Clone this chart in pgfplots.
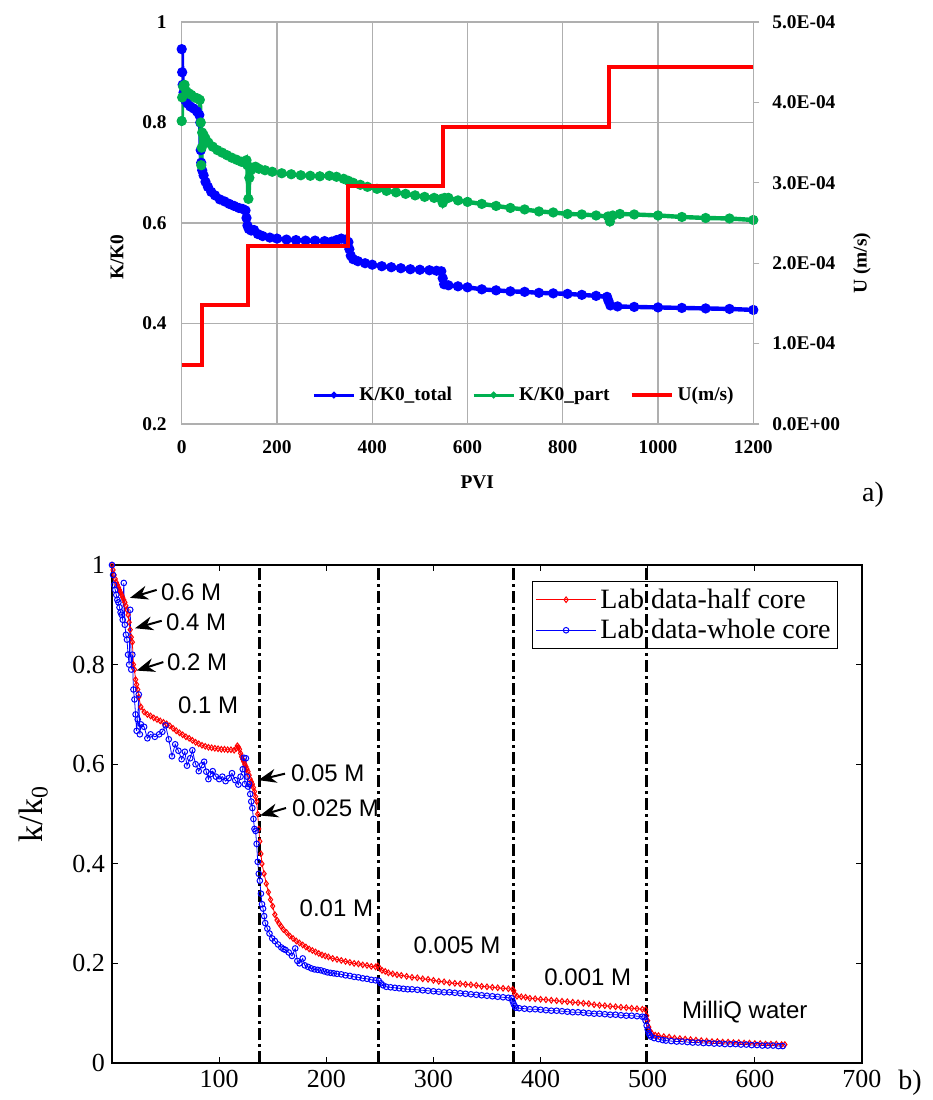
\documentclass[border=0pt]{standalone}
\usepackage{pgfplots}
\pgfplotsset{compat=1.18}
\usepackage{fontspec}
\setmainfont{Liberation Serif}
\newfontfamily\arialfont{Liberation Sans}
\usetikzlibrary{arrows.meta}
\definecolor{xlblue}{RGB}{0,0,255}
\definecolor{xlgreen}{RGB}{0,176,80}
\definecolor{xlred}{RGB}{255,0,0}
\definecolor{gridgray}{RGB}{175,175,175}

\pgfplotstableread{
x y
0 0.946
1 0.90
2 0.875
4 0.86
7 0.845
12 0.838
18 0.832
25 0.828
32 0.822
37 0.815
39 0.80
40 0.745
41 0.72
43 0.705
46 0.695
50 0.682
55 0.672
62 0.662
70 0.655
80 0.647
90 0.643
100 0.638
110 0.634
120 0.630
128 0.628
134 0.625
136 0.61
138 0.595
141 0.588
146 0.585
152 0.586
160 0.578
170 0.574
185 0.571
200 0.569
220 0.567
240 0.566
260 0.565
280 0.565
300 0.564
315 0.563
325 0.566
335 0.569
345 0.567
350 0.562
352 0.548
355 0.535
360 0.528
370 0.524
385 0.520
400 0.517
420 0.514
440 0.512
460 0.510
480 0.508
500 0.507
520 0.506
535 0.505
545 0.504
548 0.49
551 0.478
560 0.476
580 0.474
600 0.472
630 0.468
660 0.466
690 0.464
720 0.463
750 0.461
780 0.460
810 0.459
840 0.457
870 0.455
893 0.453
896 0.445
900 0.436
915 0.434
950 0.433
1000 0.432
1050 0.431
1100 0.430
1150 0.429
1200 0.427
}\totaldata

\pgfplotstableread{
x y
0 0.803
1 0.85
3 0.872
6 0.875
10 0.862
15 0.858
20 0.855
27 0.850
33 0.848
38 0.845
40 0.80
41 0.715
42 0.75
43 0.78
46 0.775
50 0.768
56 0.760
65 0.752
75 0.745
85 0.740
95 0.735
105 0.730
115 0.726
125 0.722
133 0.720
136 0.725
138 0.715
140 0.648
142 0.69
145 0.705
150 0.710
155 0.712
162 0.708
175 0.705
190 0.702
210 0.699
230 0.697
250 0.695
270 0.694
290 0.693
310 0.694
325 0.692
340 0.688
350 0.684
360 0.680
375 0.676
390 0.672
410 0.668
430 0.664
450 0.661
470 0.658
490 0.655
510 0.652
530 0.650
545 0.648
548 0.640
552 0.650
560 0.650
580 0.645
600 0.642
630 0.638
660 0.634
690 0.630
720 0.627
750 0.623
780 0.621
810 0.618
840 0.617
870 0.615
895 0.613
899 0.603
905 0.615
920 0.618
950 0.617
1000 0.615
1050 0.612
1100 0.610
1150 0.609
1200 0.606
}\partdata

\pgfplotstableread{
x y
0 1.0
1 0.99
2 0.98
3 0.972
4 0.965
5 0.96
6 0.955
7 0.95
8 0.945
9 0.94
10 0.935
11 0.93
12 0.925
13 0.918
14 0.91
15 0.90
16 0.885
17 0.87
18 0.855
19 0.845
20 0.80
21 0.79
22 0.77
23 0.76
24 0.75
25 0.735
27 0.715
30 0.705
33 0.700
36 0.697
39 0.693
42 0.690
45 0.687
48 0.684
51 0.681
54 0.677
57 0.672
60 0.667
63 0.663
66 0.659
69 0.655
72 0.652
75 0.648
78 0.644
81 0.641
84 0.638
87 0.636
90 0.634
93 0.633
96 0.632
99 0.631
102 0.630
105 0.630
108 0.629
111 0.629
114 0.628
116 0.632
117 0.637
118 0.634
119 0.630
120 0.622
121 0.615
122 0.610
123 0.605
124 0.600
125 0.595
126 0.590
127 0.585
128 0.578
129 0.570
130 0.565
131 0.560
132 0.553
133 0.545
134 0.535
135 0.525
136 0.500
137 0.470
138 0.445
139 0.420
140 0.400
142 0.380
144 0.360
146 0.343
148 0.328
150 0.315
152 0.298
154 0.287
156 0.280
158 0.274
160 0.268
163 0.262
166 0.255
169 0.250
172 0.245
175 0.241
178 0.237
181 0.233
184 0.229
187 0.226
190 0.223
193 0.220
196 0.217
199 0.215
202 0.213
206 0.210
210 0.208
214 0.206
218 0.204
222 0.202
226 0.200
230 0.199
234 0.197
238 0.196
242 0.194
246 0.193
248 0.195
250 0.190
252 0.186
255 0.184
258 0.181
262 0.179
266 0.177
270 0.176
275 0.174
280 0.172
285 0.171
290 0.169
295 0.168
300 0.166
305 0.164
310 0.163
315 0.161
320 0.160
325 0.159
330 0.158
335 0.157
340 0.156
345 0.154
350 0.153
355 0.152
360 0.151
365 0.150
370 0.149
374 0.148
375 0.145
376 0.138
378 0.134
382 0.133
386 0.132
390 0.130
395 0.129
400 0.128
405 0.127
410 0.126
415 0.125
420 0.124
425 0.123
430 0.122
435 0.121
440 0.120
445 0.119
450 0.117
455 0.116
460 0.115
465 0.114
470 0.113
475 0.112
480 0.111
485 0.110
490 0.109
495 0.108
498 0.107
499 0.095
500 0.085
501 0.072
502 0.065
504 0.059
507 0.056
510 0.055
515 0.053
520 0.052
525 0.050
530 0.049
535 0.048
540 0.047
545 0.046
550 0.045
555 0.044
560 0.043
565 0.043
570 0.042
575 0.042
580 0.041
585 0.041
590 0.040
595 0.040
600 0.039
605 0.039
610 0.038
615 0.038
620 0.038
625 0.037
628 0.037
}\halfcore

\pgfplotstableread{
x y
0 1.0
1 0.98
2 0.96
3 0.95
4 0.94
5 0.93
6 0.925
7 0.915
8 0.905
9 0.90
10 0.89
11 0.964
12 0.88
13 0.86
14 0.85
15 0.82
16 0.80
17 0.91
18 0.79
19 0.82
20 0.75
21 0.73
22 0.70
23 0.667
24 0.69
25 0.74
26 0.66
27 0.68
30 0.675
33 0.652
36 0.66
40 0.655
44 0.66
47 0.665
50 0.678
53 0.65
56 0.616
59 0.64
62 0.627
65 0.61
68 0.625
70 0.597
73 0.612
75 0.628
78 0.60
81 0.586
84 0.598
86 0.605
88 0.585
90 0.57
92 0.58
94 0.586
97 0.575
100 0.57
103 0.575
106 0.566
109 0.572
112 0.582
115 0.568
118 0.559
120 0.575
122 0.59
123 0.613
124 0.56
125 0.612
126 0.575
127 0.555
128 0.56
129 0.54
130 0.525
131 0.512
132 0.49
133 0.47
134 0.466
135 0.44
136 0.404
137 0.38
138 0.366
139 0.34
140 0.319
141 0.31
142 0.295
143 0.281
145 0.27
147 0.26
149.6 0.25
152 0.245
155 0.238
158 0.232
160 0.229
162 0.227
165 0.222
168 0.215
171 0.23
173 0.205
175 0.20
178 0.21
180 0.196
183 0.193
186 0.19
189 0.188
192 0.187
195 0.186
198 0.184
201 0.182
204 0.181
207 0.180
210 0.179
214 0.178
218 0.176
222 0.175
226 0.173
230 0.172
234 0.170
238 0.169
242 0.167
246 0.166
249 0.165
251 0.160
253 0.156
256 0.153
260 0.152
264 0.151
268 0.150
272 0.149
276 0.148
280 0.148
285 0.147
290 0.146
295 0.145
300 0.144
305 0.143
310 0.142
315 0.142
320 0.141
325 0.140
330 0.139
335 0.138
340 0.137
345 0.136
350 0.135
355 0.134
360 0.133
365 0.132
370 0.131
373 0.130
374 0.124
375 0.118
376 0.114
377 0.111
380 0.110
385 0.109
390 0.108
395 0.108
400 0.107
405 0.106
410 0.105
415 0.105
420 0.104
425 0.103
430 0.102
435 0.102
440 0.101
445 0.100
450 0.099
455 0.099
460 0.098
465 0.097
470 0.097
475 0.096
480 0.095
485 0.095
490 0.094
495 0.093
497 0.092
498 0.085
499 0.075
500 0.067
501 0.060
502 0.056
503 0.053
506 0.050
510 0.048
514 0.046
517 0.045
522 0.044
527 0.043
532 0.043
537 0.042
542 0.041
547 0.041
552 0.040
557 0.040
562 0.039
567 0.039
572 0.038
577 0.038
582 0.038
587 0.037
592 0.037
597 0.036
602 0.036
607 0.035
612 0.035
617 0.035
622 0.034
626 0.034
}\wholecore

\begin{document}
\begin{tikzpicture}
\useasboundingbox (0,0) rectangle (466.5pt,550pt);

% ---------- panel a: left axis ----------
\begin{axis}[
  at={(90.85pt,338pt)}, anchor=south west,
  scale only axis, width=285.8pt, height=201pt,
  xmin=0, xmax=1200, ymin=0.2, ymax=1,
  xtick={0,200,400,600,800,1000,1200},
  ytick={0.2,0.4,0.6,0.8,1},
  grid=major, major grid style={draw=gridgray, line width=0.6pt},
  axis line style={draw=gridgray, line width=0.6pt},
  major tick length=0pt,
  /pgf/number format/assume math mode=true,
  /pgf/number format/1000 sep={},
  ticklabel style={font=\fontsize{9.7}{11}\selectfont\bfseries},
  yticklabel style={xshift=-4pt},
  xticklabel style={yshift=-5pt},
  xlabel={PVI}, ylabel={K/K0},
  label style={font=\fontsize{9.7}{11}\selectfont\bfseries},
  xlabel style={at={(axis description cs:0.517,-0.144)}, anchor=center},
  ylabel style={at={(axis description cs:-0.113,0.415)}, anchor=center},
]
\addplot[xlblue, line width=2.2pt, mark=*, mark size=1.4pt] table[x=x,y=y] {\totaldata};
\addplot[xlgreen, line width=2.2pt, mark=*, mark size=1.4pt] table[x=x,y=y] {\partdata};
\end{axis}

% ---------- panel a: right axis ----------
\begin{axis}[
  at={(90.85pt,338pt)}, anchor=south west,
  scale only axis, width=285.8pt, height=201pt,
  xmin=0, xmax=1200, ymin=0, ymax=0.0005,
  axis x line=none, axis y line*=right,
  axis line style={draw=gridgray, line width=0.6pt},
  ytick={0,0.0001,0.0002,0.0003,0.0004,0.0005},
  yticklabels={0.0E+00,1.0E-04,2.0E-04,3.0E-04,4.0E-04,5.0E-04},
  scaled y ticks=false,
  tick align=outside, major tick length=3pt,
  ytick style={draw=gridgray, line width=0.6pt},
  yticklabel style={font=\fontsize{9.7}{11}\selectfont\bfseries, xshift=3pt},
  ylabel={U (m/s)},
  ylabel style={font=\fontsize{9.7}{11}\selectfont\bfseries, at={(axis description cs:1.19,0.40)}, anchor=center},
  legend columns=3,
  legend style={at={(axis description cs:0.228,0.072)}, anchor=west, draw=none, fill=none,
    font=\fontsize{9.7}{11}\selectfont\bfseries, /tikz/every even column/.append style={column sep=8pt},
    inner sep=0pt},
  legend image code/.code={\draw[mark repeat=2,mark phase=2,#1] plot coordinates {(0pt,0pt) (10pt,0pt) (20pt,0pt)};},
]
\addlegendimage{xlblue, line width=1.5pt, mark=*, mark size=0.8pt}
\addlegendentry{K/K0\_total}
\addlegendimage{xlgreen, line width=1.5pt, mark=*, mark size=0.8pt}
\addlegendentry{K/K0\_part}
\addplot[xlred, line width=2pt, const plot, forget plot] coordinates {
 (0,0.000074) (42,0.000148) (139,0.000222) (349,0.000296) (548,0.000370) (898,0.000444) (1200,0.000444)};
\addlegendimage{xlred, line width=2pt}
\addlegendentry{U(m/s)}
\end{axis}

\node[font=\fontsize{14}{16}\selectfont] at (436.5pt,302.5pt) {a)};

% ---------- panel b ----------
\begin{axis}[
  at={(56pt,18.5pt)}, anchor=south west,
  scale only axis, width=375pt, height=249pt,
  xmin=0, xmax=700, ymin=0, ymax=1,
  xtick={100,200,300,400,500,600,700},
  ytick={0,0.2,0.4,0.6,0.8,1},
  tick align=inside, major tick length=3pt,
  axis line style={line width=0.6pt},
  tick style={line width=0.6pt, black},
  /pgf/number format/assume math mode=true,
  ticklabel style={font=\fontsize{13}{14}\selectfont},
  ylabel={k/k\textsubscript{0}},
  ylabel style={font=\fontsize{17}{18}\selectfont, at={(axis description cs:-0.105,0.5)}, anchor=center},
  legend cell align=left,
  legend style={at={(axis description cs:0.968,0.968)}, anchor=north east, draw=black, fill=none,
    font=\fontsize{14}{16}\selectfont, inner sep=1.5pt},
  legend image code/.code={\draw[mark repeat=2,mark phase=2,#1] plot coordinates {(0pt,0pt) (15pt,0pt) (30pt,0pt)};},
]
\addplot[xlred, line width=0.4pt, mark=diamond, mark size=1.4pt, mark options={line width=0.5pt}] table[x=x,y=y] {\halfcore};
\addlegendentry{Lab data-half core}
\addplot[xlblue, line width=0.4pt, mark=o, mark size=1.4pt, mark options={line width=0.5pt}] table[x=x,y=y] {\wholecore};
\addlegendentry{Lab data-whole core}

\draw[black, line width=1.5pt, dash pattern=on 6pt off 2pt on 1.5pt off 2pt] (axis cs:137.5,0) -- (axis cs:137.5,1);
\draw[black, line width=1.5pt, dash pattern=on 6pt off 2pt on 1.5pt off 2pt] (axis cs:248.5,0) -- (axis cs:248.5,1);
\draw[black, line width=1.5pt, dash pattern=on 6pt off 2pt on 1.5pt off 2pt] (axis cs:375,0) -- (axis cs:375,1);
\draw[black, line width=1.5pt, dash pattern=on 6pt off 2pt on 1.5pt off 2pt] (axis cs:499,0) -- (axis cs:499,1);

\begin{scope}[every node/.style={font=\arialfont\fontsize{12}{13}\selectfont, anchor=west, inner sep=0pt}]
\draw[-{Stealth[length=9pt,width=7pt]}, line width=1pt] (axis cs:41.7,0.950) -- (axis cs:16.8,0.934);
\node at (axis cs:45.4,0.946) {0.6 M};
\draw[-{Stealth[length=9pt,width=7pt]}, line width=1pt] (axis cs:46.4,0.888) -- (axis cs:21.5,0.873);
\node at (axis cs:50.1,0.886) {0.4 M};
\draw[-{Stealth[length=9pt,width=7pt]}, line width=1pt] (axis cs:47.9,0.805) -- (axis cs:23,0.788);
\node at (axis cs:51,0.804) {0.2 M};
\node at (axis cs:61.3,0.718) {0.1 M};
\draw[-{Stealth[length=9pt,width=7pt]}, line width=1pt] (axis cs:161.5,0.581) -- (axis cs:136.6,0.568);
\node at (axis cs:166.8,0.581) {0.05 M};
\draw[-{Stealth[length=9pt,width=7pt]}, line width=1pt] (axis cs:162.4,0.512) -- (axis cs:138.1,0.497);
\node at (axis cs:167.7,0.512) {0.025 M};
\node at (axis cs:174.8,0.31) {0.01 M};
\node at (axis cs:281.2,0.236) {0.005 M};
\node at (axis cs:403.2,0.172) {0.001 M};
\node at (axis cs:531.7,0.103) {MilliQ water};
\end{scope}
\end{axis}

\node[font=\fontsize{14}{16}\selectfont] at (455pt,8.5pt) {b)};
\end{tikzpicture}
\end{document}
